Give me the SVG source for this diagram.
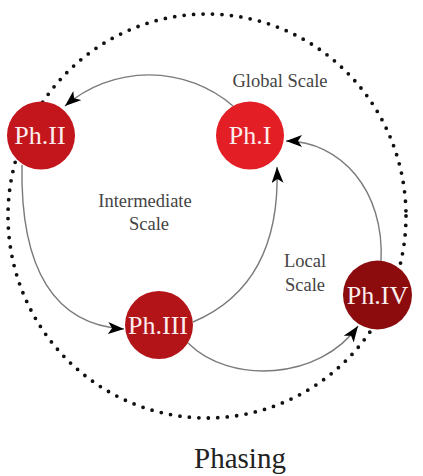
<svg xmlns="http://www.w3.org/2000/svg" width="423" height="476" viewBox="0 0 423 476">
<defs>
<style>
.edge{fill:none;stroke:#7a7a7a;stroke-width:1.4}
.dots{fill:none;stroke:#111;stroke-width:3.8;stroke-linecap:round;stroke-dasharray:0 9.5}
.nlabel{font-family:"Liberation Serif","Times New Roman",serif;font-size:26px;fill:#fbeeee;text-anchor:middle}
.scale{font-family:"Liberation Serif","Times New Roman",serif;font-size:18.5px;fill:#444;text-anchor:middle}
.title{font-family:"Liberation Serif","Times New Roman",serif;font-size:29px;fill:#222;text-anchor:middle}
</style>
<marker id="arr" viewBox="0 0 16 12" refX="16" refY="6" markerWidth="16" markerHeight="12" markerUnits="userSpaceOnUse" orient="auto">
<path d="M0,0 L16,6 L0,12 L4,6 z" fill="#000"/>
</marker>
</defs>
<rect width="423" height="476" fill="#fff"/>
<g id="phasing-ring">
<ellipse class="dots" cx="207" cy="216" rx="199" ry="202"/>
</g>
<g id="connectors">
<path class="edge" d="M233,106 A129,129 0 0 0 65,106" marker-end="url(#arr)"/>
<path class="edge" d="M22,165 C20,270 55,325 124,329" marker-end="url(#arr)"/>
<path class="edge" d="M193,322 C245,300 280,255 277,167" marker-end="url(#arr)"/>
<path class="edge" d="M188,343 C230,385 320,380 358,326" marker-end="url(#arr)"/>
<path class="edge" d="M381,262 C385,190 340,141 286,141" marker-end="url(#arr)"/>
</g>
<g id="ph1">
<circle cx="250" cy="135.5" r="34" fill="#e31e24"/>
<text class="nlabel" x="250" y="144">Ph.I</text>
</g>
<g id="ph2">
<circle cx="41" cy="135.5" r="34" fill="#c3161c"/>
<text class="nlabel" x="40" y="144">Ph.II</text>
</g>
<g id="ph3">
<circle cx="159" cy="325" r="34" fill="#b21418"/>
<text class="nlabel" x="158" y="334">Ph.III</text>
</g>
<g id="ph4">
<circle cx="377.5" cy="295" r="34.5" fill="#8c0c0e"/>
<text class="nlabel" x="377.5" y="304">Ph.IV</text>
</g>
<g id="labels">
<text class="scale" x="280" y="87">Global Scale</text>
<text class="scale" x="145" y="207">Intermediate</text>
<text class="scale" x="149" y="230">Scale</text>
<text class="scale" x="305" y="267">Local</text>
<text class="scale" x="305" y="291">Scale</text>
<text class="title" x="240" y="468">Phasing</text>
</g>
</svg>
